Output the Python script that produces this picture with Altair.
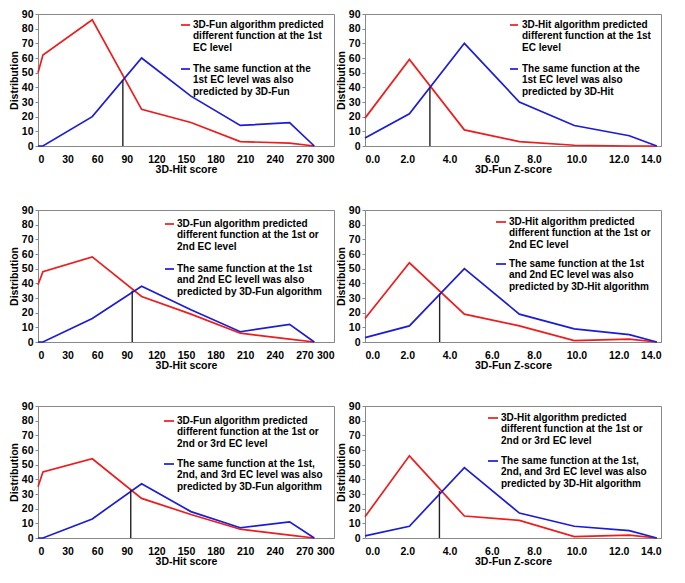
import altair as alt
import pandas as pd

FONT = "Liberation Sans"
RED = "#ee1c1c"
BLUE = "#1c1cd8"

HIT_X = [0, 5, 55, 105, 155, 205, 255, 280]
Z_X = [0.0, 2.1, 4.7, 7.3, 9.9, 12.5, 13.8]
HIT_TICKS = [0, 30, 60, 90, 120, 150, 180, 210, 240, 270, 300]
Z_TICKS = [0, 2, 4, 6, 8, 10, 12, 14]
Y_TICKS = [0, 10, 20, 30, 40, 50, 60, 70, 80, 90]

P1_RED = [50, 62, 86, 25, 16, 3, 2, 0]
P1_BLUE = [0, 0, 20, 60, 34, 14, 16, 0]
P1_CROSS = [86, 45]
P2_RED = [19, 59, 11, 3, 0.5, 0, 0]
P2_BLUE = [5.5, 22, 70, 30, 14, 7, 0]
P2_CROSS = [3.07, 40]
P3_RED = [39, 48, 58, 31, 19, 6, 2, 0]
P3_BLUE = [0, 0, 16, 38, 22, 7, 12, 0]
P3_CROSS = [95.5, 35]
P4_RED = [16, 54, 19, 11, 1, 2, 0]
P4_BLUE = [3, 11, 50, 19, 9, 5, 0]
P4_CROSS = [3.53, 33]
P5_RED = [35, 45, 54, 27, 16, 6, 2, 0]
P5_BLUE = [0, 0, 13, 37, 18, 7, 11, 0]
P5_CROSS = [94, 33]
P6_RED = [14.5, 56, 15, 12, 1, 2, 0]
P6_BLUE = [1.5, 8, 48, 17, 8, 5, 0]
P6_CROSS = [3.52, 32]

P1_RED_TXT = ["3D-Fun algorithm predicted", "different function at the 1st", "EC level"]
P1_BLUE_TXT = ["The same function at the", "1st EC level was also", "predicted by 3D-Fun"]
P2_RED_TXT = ["3D-Hit algorithm predicted", "different function at the 1st", "EC level"]
P2_BLUE_TXT = ["The same function at the", "1st EC level was also", "predicted by 3D-Hit"]
P3_RED_TXT = ["3D-Fun algorithm predicted", "different function at the 1st or", "2nd EC level"]
P3_BLUE_TXT = ["The same function at the 1st", "and 2nd EC levell was also", "predicted by 3D-Fun algorithm"]
P4_RED_TXT = ["3D-Hit algorithm predicted", "different function at the 1st or", "2nd EC level"]
P4_BLUE_TXT = ["The same function at the 1st", "and 2nd EC level was also", "predicted by 3D-Hit algorithm"]
P5_RED_TXT = ["3D-Fun algorithm predicted", "different function at the 1st or", "2nd or 3rd EC level"]
P5_BLUE_TXT = ["The same function at the 1st,", "2nd, and 3rd EC level was also", "predicted by 3D-Fun algorithm"]
P6_RED_TXT = ["3D-Hit algorithm predicted", "different function at the 1st or", "2nd or 3rd EC level"]
P6_BLUE_TXT = ["The same function  at the 1st,", "2nd, and 3rd EC level was also", "predicted by 3D-Hit algorithm"]

W, H = 296, 132
LH = 11.3


def panel(xs, red, blue, cross, xdom, xvals, xfmt, xtitle, red_txt, blue_txt, leg):
    lx1, lx2, tx, ry, by = leg
    df = pd.DataFrame({
        "x": list(xs) * 2,
        "y": list(red) + list(blue),
        "s": ["red"] * len(xs) + ["blue"] * len(xs),
    })
    xscale = alt.Scale(domain=xdom, nice=False, zero=False)
    yscale = alt.Scale(domain=[0, 90], nice=False)
    xaxis = alt.Axis(values=xvals, format=xfmt, title=xtitle, labelOverlap=False)
    yaxis = alt.Axis(values=Y_TICKS, title="Distribution", labelOverlap=False)
    lines = alt.Chart(df).mark_line(strokeWidth=1.7).encode(
        x=alt.X("x:Q", scale=xscale, axis=xaxis),
        y=alt.Y("y:Q", scale=yscale, axis=yaxis),
        color=alt.Color("s:N", scale=alt.Scale(domain=["red", "blue"], range=[RED, BLUE]), legend=None),
    )
    cdf = pd.DataFrame({"x": [cross[0]], "y": [0], "y2": [cross[1]]})
    rule = alt.Chart(cdf).mark_rule(color="#222222", strokeWidth=1.4).encode(
        x=alt.X("x:Q", scale=xscale, axis=xaxis),
        y=alt.Y("y:Q", scale=yscale, axis=yaxis), y2="y2:Q")
    one = pd.DataFrame({"a": [0]})
    layers = [lines, rule]
    for col, yy, txt in [(RED, ry, red_txt), (BLUE, by, blue_txt)]:
        layers.append(alt.Chart(one).mark_rule(color=col, strokeWidth=1.7).encode(
            x=alt.value(lx1), x2=alt.value(lx2), y=alt.value(yy)))
        for i, line in enumerate(txt):
            layers.append(alt.Chart(one).mark_text(
                text=line, align="left", baseline="middle", fontSize=10,
                fontWeight="bold", font=FONT, color="black").encode(
                x=alt.value(tx), y=alt.value(yy + i * LH)))
    return alt.layer(*layers).properties(width=W, height=H)


p1 = panel(HIT_X, P1_RED, P1_BLUE, P1_CROSS, [0, 300], HIT_TICKS, "d", "3D-Hit score",
           P1_RED_TXT, P1_BLUE_TXT, [143, 152, 155, 11, 55])
p2 = panel(Z_X, P2_RED, P2_BLUE, P2_CROSS, [0, 14], Z_TICKS, ".1f", "3D-Fun Z-score",
           P2_RED_TXT, P2_BLUE_TXT, [145, 153, 157, 11, 55])
p3 = panel(HIT_X, P3_RED, P3_BLUE, P3_CROSS, [0, 300], HIT_TICKS, "d", "3D-Hit score",
           P3_RED_TXT, P3_BLUE_TXT, [127, 136, 139, 14, 59])
p4 = panel(Z_X, P4_RED, P4_BLUE, P4_CROSS, [0, 14], Z_TICKS, ".1f", "3D-Fun Z-score",
           P4_RED_TXT, P4_BLUE_TXT, [131, 141, 144, 12, 54])
p5 = panel(HIT_X, P5_RED, P5_BLUE, P5_CROSS, [0, 300], HIT_TICKS, "d", "3D-Hit score",
           P5_RED_TXT, P5_BLUE_TXT, [126, 136, 139, 15, 58])
p6 = panel(Z_X, P6_RED, P6_BLUE, P6_CROSS, [0, 14], Z_TICKS, ".1f", "3D-Fun Z-score",
           P6_RED_TXT, P6_BLUE_TXT, [123, 133, 136, 12, 55])

rows = [alt.hconcat(a, b, spacing=0) for a, b in [(p1, p2), (p3, p4), (p5, p6)]]
chart = alt.vconcat(*rows, spacing=28).properties(
    padding={"left": 0, "top": 0, "right": 0, "bottom": 0}
).configure_view(stroke="#888888", strokeWidth=1).configure_axis(
    labelFont=FONT, labelFontSize=10.5, labelFontWeight="bold", labelColor="black",
    titleFont=FONT, titleFontSize=10.5, titleFontWeight="bold", titleColor="black",
    domainColor="#888888", tickColor="#888888", tickSize=3, grid=False,
).configure_axisX(ticks=False, labelPadding=8, titlePadding=0).configure_axisY(
    labelPadding=2, titlePadding=2)

chart.save("out.html", embed_options={"renderer": "svg", "actions": False})
